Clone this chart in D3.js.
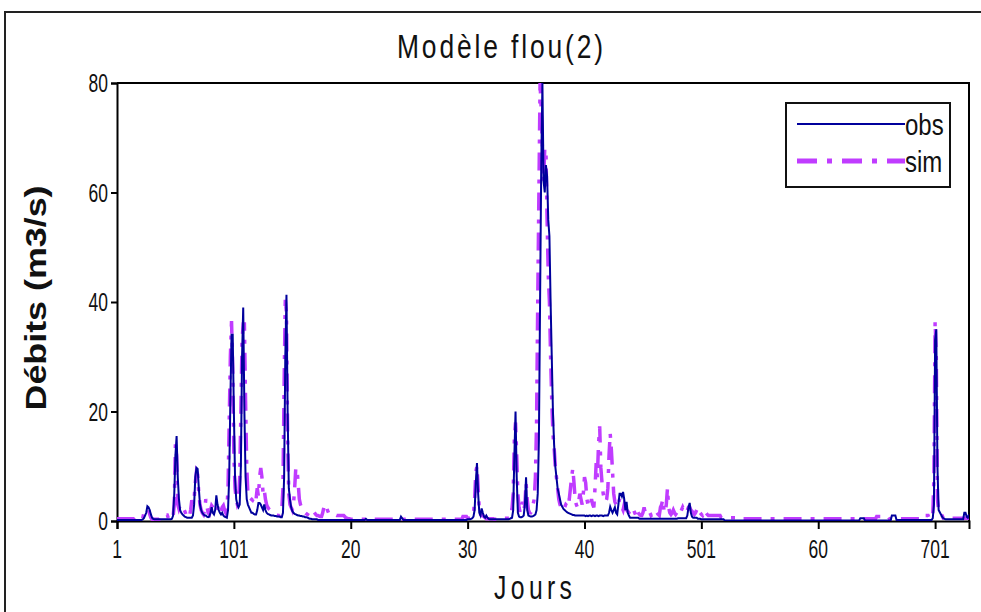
<!DOCTYPE html>
<html>
<head>
<meta charset="utf-8">
<script src="https://cdn.jsdelivr.net/npm/d3@7"></script>
<style>
  body { margin: 0; background: #fff; }
  svg { display: block; font-family: "Liberation Sans", Arial, sans-serif; }
</style>
</head>
<body>
<svg id="chart" width="981" height="612"></svg>
<script>
// Daily discharge (m3/s), days 1..730 — observed series
const obs = [
  0.2,0.2,0.2,0.2,0.2,0.2,0.2,0.2,0.2,0.2,
  0.2,0.2,0.2,0.2,0.2,0.2,0.2,0.2,0.2,0.2,
  0.2,0.2,0.3,0.5,1.0,1.5,2.7,2.5,2.0,1.2,
  0.6,0.4,0.3,0.3,0.3,0.3,0.3,0.3,0.3,0.3,
  0.3,0.3,0.3,0.3,0.3,0.3,0.3,0.4,1.0,5.0,
  12,15.5,8,4,2,1.5,1.2,1.0,0.8,0.7,
  0.6,0.6,0.6,0.6,0.6,1.0,3,8,9.7,9.5,
  6,3,2,1.5,1.2,1.0,1.0,0.8,0.7,0.8,
  1.5,2.5,1.5,1.2,2,4.7,3,2,1.5,1.2,
  1.5,1.0,0.8,0.7,0.6,2,8,22,34,34,
  20,8,4,3,2.5,3,10,30,39,20,
  8,4,3,2.5,2,1.5,1.5,1.3,1.2,1.2,
  2,3.3,3.3,3,2.5,2,3,2,1.5,1.3,
  1.2,1.1,1.0,1.0,1.0,0.9,0.9,0.8,0.8,0.8,
  0.7,0.7,1.5,8,30,41.3,20,6,4,2.5,
  1.8,1.5,1.3,1.2,1.1,1.0,1.0,0.9,0.9,0.8,
  0.8,0.7,0.7,0.6,0.5,0.4,0.4,0.3,0.3,0.3,
  0.3,0.3,0.2,0.2,0.2,0.2,0.2,0.2,0.2,0.2,
  0.2,0.2,0.2,0.2,0.2,0.2,0.2,0.2,0.2,0.2,
  0.2,0.2,0.2,0.2,0.2,0.2,0.2,0.2,0.2,0.2,
  0.2,0.2,0.2,0.2,0.2,0.2,0.2,0.2,0.2,0.2,
  0.2,0.2,0.2,0.4,0.2,0.2,0.2,0.2,0.2,0.2,
  0.2,0.2,0.2,0.2,0.2,0.2,0.2,0.2,0.2,0.2,
  0.2,0.2,0.2,0.2,0.2,0.2,0.2,0.2,0.2,0.2,
  0.2,0.2,0.2,0.8,0.5,0.2,0.2,0.2,0.2,0.2,
  0.2,0.2,0.2,0.2,0.2,0.2,0.2,0.2,0.2,0.2,
  0.2,0.2,0.2,0.2,0.2,0.2,0.2,0.2,0.2,0.2,
  0.2,0.2,0.2,0.2,0.2,0.2,0.2,0.2,0.2,0.2,
  0.2,0.2,0.2,0.2,0.2,0.2,0.2,0.2,0.2,0.2,
  0.2,0.2,0.2,0.2,0.2,0.2,0.2,0.2,0.2,0.2,
  0.3,0.3,0.3,0.4,0.5,0.8,2,7,10.6,5,
  1.5,1.0,2.3,1.5,0.8,0.6,1.0,0.6,0.4,0.3,
  0.3,0.3,0.3,0.3,0.3,0.3,0.3,0.3,0.3,0.3,
  0.3,0.3,0.3,0.3,0.3,0.3,0.4,0.5,0.6,2,
  12,20,8,1.5,0.8,0.7,0.7,0.8,1,3,
  8,2,1,0.9,0.8,0.8,0.9,1.0,1.2,2,
  5,15,40,65,80,62,60,65,63,55,
  52,40,30,20,14,10,8,6,5,4,
  3,2.6,2.2,2.0,1.8,1.6,1.5,1.4,1.3,1.2,
  1.1,1.1,1.0,1.0,1.0,1.0,1.0,1.0,1.0,1.0,
  1.0,0.9,1.0,0.9,1.0,1.0,0.9,1.0,1.0,0.9,
  1.0,1.0,0.9,1.0,1.0,1.0,0.9,1.0,1.0,1.0,
  1.0,1.5,2.6,2,1.5,2,2.5,1.5,1.2,3,
  5,5,4.5,5.3,4,2,3.5,1.5,1.0,0.6,
  0.6,0.6,0.6,0.6,0.6,0.6,0.6,0.4,0.4,0.4,
  0.4,0.4,0.4,0.4,0.4,0.4,0.4,0.4,0.4,0.4,
  0.4,0.4,0.4,0.4,0.4,0.4,0.4,0.4,0.4,0.4,
  0.4,0.4,0.4,0.4,0.4,0.4,0.4,0.4,0.4,0.4,
  0.5,0.5,0.5,0.5,0.5,0.5,0.5,0.5,1,2.5,
  3.3,1.5,0.8,0.6,0.6,0.6,0.6,0.4,0.4,0.4,
  0.3,0.3,0.3,0.3,0.3,0.3,0.3,0.3,0.3,0.3,
  0.3,0.3,0.3,0.3,0.3,0.3,0.3,0.3,0.3,0.3,
  0.1,0.1,0.1,0.1,0.1,0.1,0.1,0.1,0.1,0.1,
  0.1,0.1,0.1,0.1,0.1,0.1,0.1,0.1,0.1,0.1,
  0.1,0.1,0.1,0.1,0.1,0.1,0.1,0.1,0.1,0.1,
  0.1,0.1,0.1,0.1,0.1,0.1,0.1,0.1,0.1,0.1,
  0.1,0.1,0.1,0.1,0.1,0.1,0.1,0.1,0.1,0.1,
  0.1,0.1,0.1,0.1,0.1,0.1,0.1,0.1,0.1,0.1,
  0.1,0.1,0.1,0.1,0.1,0.1,0.1,0.1,0.1,0.1,
  0.1,0.1,0.1,0.1,0.1,0.1,0.1,0.1,0.1,0.1,
  0.1,0.1,0.1,0.1,0.1,0.1,0.1,0.1,0.1,0.1,
  0.1,0.1,0.1,0.1,0.1,0.1,0.1,0.1,0.1,0.1,
  0.1,0.1,0.1,0.1,0.1,0.1,0.1,0.1,0.1,0.1,
  0.1,0.1,0.1,0.1,0.1,0.1,0.5,0.5,0.5,0.5,
  0.1,0.1,0.1,0.1,0.1,0.1,0.1,0.1,0.1,0.1,
  0.1,0.1,0.1,0.1,0.1,0.1,0.1,0.1,0.1,0.1,
  0.1,0.1,0.1,1.0,1.0,1.0,1.0,0.2,0.2,0.2,
  0.2,0.2,0.2,0.2,0.2,0.2,0.2,0.2,0.2,0.2,
  0.2,0.2,0.2,0.2,0.2,0.2,0.2,0.2,0.2,0.2,
  0.2,0.2,0.2,0.2,0.2,0.2,0.2,0.2,0.5,3,
  33,35,10,2,1.6,1.2,0.8,0.5,0.4,0.3,
  0.3,0.3,0.3,0.3,0.3,0.3,0.3,0.3,0.3,0.3,
  0.3,0.3,0.3,0.3,0.3,1.5,1.5,0.8,0.6,1.2
];

// Simulated series (fuzzy model 2), days 1..730
const sim = [
  0.4,0.4,0.4,0.4,0.4,0.4,0.4,0.4,0.4,0.4,
  0.4,0.4,0.4,0.4,0.4,0.2,0.2,0.2,0.2,0.2,
  0.2,0.2,0.5,1.5,2,2,2.2,2,1.2,0.6,
  0.3,0.3,0.3,0.3,0.3,0.3,0.3,0.8,1.1,1.1,
  1.1,1.1,1.1,1.1,0.5,0.3,0.3,0.3,0.8,3,
  14,12,3,2.2,2.8,3,2.5,2.2,1.8,1.2,
  0.8,0.6,0.8,2,3.8,3,4,7,9,8.5,
  5,3,2,1.5,1.2,2,4,2.6,1.5,1.2,
  2,2.8,2.5,2.2,1.8,1.5,2.2,3,2,1.8,
  2.5,2.8,2,1.5,2,6,18,30,36.5,28,
  12,6,4,3,3.5,8,20,33,36,36,
  22,10,5,4.2,4.2,4,3.8,4.2,3.5,4,
  6,4.5,8,9.7,8,5,5.7,4,3,2.5,
  2.2,2,1.8,1.5,1.4,1.3,1.2,1.1,1.0,1.0,
  1.2,2,6,25,40.4,38,15,5,3,2.5,
  2,3,6,9.7,9.5,7,4,3,2.5,2,
  1.8,1.5,1.3,1.2,1.5,2,2,2,1.8,1.5,
  1.2,1.0,1.0,0.9,0.8,0.8,1.5,2.5,3,3,
  2,1.5,1.2,1.1,1.1,1.1,1.1,1.1,1.0,1.0,
  1.0,1.0,1.0,1.0,1.0,0.8,0.5,0.5,0.4,0.4,
  0.3,0.3,0.3,0.3,0.3,0.3,0.3,0.3,0.3,0.3,
  0.3,0.3,0.3,0.3,0.3,0.3,0.3,0.3,0.3,0.3,
  0.3,0.3,0.3,0.3,0.3,0.3,0.3,0.3,0.3,0.3,
  0.3,0.3,0.3,0.3,0.3,0.3,0.3,0.3,0.3,0.3,
  0.3,0.3,0.3,0.3,0.3,0.3,0.3,0.3,0.3,0.3,
  0.3,0.3,0.3,0.3,0.3,0.3,0.3,0.3,0.3,0.3,
  0.3,0.3,0.3,0.3,0.3,0.3,0.3,0.3,0.3,0.3,
  0.3,0.3,0.3,0.3,0.3,0.3,0.3,0.3,0.3,0.3,
  0.3,0.3,0.3,0.3,0.3,0.3,0.3,0.3,0.3,0.3,
  0.3,0.3,0.3,0.3,0.3,0.3,0.8,0.8,0.8,0.8,
  0.5,0.5,0.5,0.5,0.8,1.2,4,9,10,6,
  2,1.2,1.0,1.0,0.8,0.6,0.4,0.4,0.4,0.4,
  0.4,0.4,0.4,0.3,0.3,0.3,0.3,0.3,0.5,0.5,
  0.5,0.5,0.5,0.5,0.5,0.5,0.5,1,2.3,5,
  15,18,12,5,2.5,1.5,2.5,3.5,2,3,
  7,4,2,1.5,1.5,2,3,4,8,18,
  40,60,80,75,68,62,68,68,55,45,
  40,30,22,16,13.5,10,8,6,4,3,
  2.5,2,2,2.5,3,2.8,2.5,4,6,8,
  9.6,7,4,3,2.5,3.5,5,4,3,5,
  8,7,4,3,2.5,3,4,3,2.5,6,
  10.6,8,14,17.3,9.7,7,5,4,3.5,4,
  6,12,16,13,9,5,3.5,3,2.5,3,
  4,3,2.5,2,3,2.5,2,1.8,1.5,1.2,
  1.0,1.5,2,1.5,1.0,2,1.5,1.2,1,1,
  1.5,2.5,1.5,1.2,1.0,1.2,1.5,1.0,1.2,1.5,
  1.2,1.0,1.5,1.2,1.0,2.5,3,4,2,1.5,
  3,6,2.5,1.5,1.2,1.5,2,1.5,1.2,1.5,
  2,1.8,1.5,2,2.5,2,1.8,1.5,2,2.5,
  2.5,2,1.8,1.5,1.2,1.5,2,2.5,1.8,1.5,
  1.2,1.0,1.5,2,1.5,1.2,1.0,1.0,1.0,1.0,
  1.0,1.0,1.0,1.0,1.0,1.0,1.0,0.6,0.6,0.6,
  0.6,0.6,0.6,0.6,0.6,0.6,0.6,0.6,0.6,0.6,
  // days 531-650
  0.4,0.4,0.4,0.4,0.4,0.4,0.4,0.4,0.4,0.4,
  0.4,0.4,0.4,0.4,0.4,0.4,0.4,0.4,0.4,0.4,
  0.4,0.4,0.4,0.4,0.4,0.4,0.4,0.4,0.4,0.4,
  0.4,0.4,0.4,0.4,0.4,0.4,0.4,0.4,0.4,0.4,
  0.4,0.4,0.4,0.4,0.4,0.4,0.4,0.4,0.4,0.4,
  0.4,0.4,0.4,0.4,0.4,0.4,0.4,0.4,0.4,0.4,
  0.4,0.4,0.4,0.4,0.4,0.4,0.4,0.4,0.4,0.4,
  0.4,0.4,0.4,0.4,0.4,0.4,0.4,0.4,0.4,0.4,
  0.4,0.4,0.4,0.4,0.4,0.4,0.4,0.4,0.4,0.4,
  0.4,0.4,0.4,0.4,0.4,0.4,0.4,0.4,0.4,0.4,
  0.4,0.4,0.4,0.4,0.4,0.4,0.4,0.4,0.4,0.4,
  0.4,0.4,0.4,0.4,0.4,0.4,0.4,0.4,0.4,0.4,
  // days 651-730
  0.8,0.8,0.8,0.8,0.8,0.8,0.8,0.8,0.8,0.8,
  0.8,0.4,0.4,0.4,0.4,0.4,0.4,0.4,0.4,0.4,
  0.4,0.4,0.4,0.4,0.4,0.4,0.4,0.4,0.4,0.4,
  0.4,0.4,0.4,0.4,0.4,0.4,0.4,0.4,0.4,0.4,
  1,1,1,1,1,0.5,0.5,0.5,1,8,
  36.5,30,4,2,1.5,1.2,1.0,0.5,0.5,0.5,
  0.5,0.5,0.5,0.5,0.5,0.5,0.5,0.5,0.5,0.5,
  0.5,0.5,0.5,0.5,0.5,0.5,0.5,0.5,0.5,0.5
];

const yTicks = [0, 20, 40, 60, 80];
const xTickDays = [1, 101, 201, 301, 401, 501, 601, 701];
const xTickLabels = ["1", "101", "20", "30", "40", "501", "60", "701"];
const seriesNames = ["obs", "sim"];
const titleText = "Modèle flou(2)";
const yTitle = "Débits (m3/s)";
const xTitle = "Jours";

const svg = d3.select("#chart");
const plot = { left: 117, right: 969, top: 83, bottom: 521 };
const colors = { obs: "#00009c", sim: "#c03cff" };

const x = d3.scaleLinear().domain([1, obs.length]).range([plot.left, plot.right]);
const y = d3.scaleLinear().domain([0, 80]).range([plot.bottom, plot.top]);

// Condensed text: glyphs squeezed horizontally, optionally spread to a target width
function narrowText(parent, px, py, str, o) {
  const sx = o.sx || 0.72;
  const g = parent.append("g").attr("transform", `translate(${px},${py})`);
  const t = g.append("text")
    .attr("transform", `scale(${sx},1)`)
    .attr("text-anchor", o.anchor || "middle")
    .attr("font-size", o.size)
    .attr("font-weight", o.weight || "normal")
    .attr("fill", o.fill || "#111")
    .text(str);
  if (o.dy) t.attr("dy", o.dy);
  if (o.width) t.attr("textLength", o.width / sx).attr("lengthAdjust", "spacing");
  return t;
}

// Outer chart frame
svg.append("rect")
  .attr("x", 5).attr("y", 12).attr("width", 1000).attr("height", 700)
  .attr("fill", "none").attr("stroke", "#222").attr("stroke-width", 2);

// Title
narrowText(svg, 500, 58, titleText, { size: 33, sx: 0.8, width: 206 });

// Plot border (top / right)
svg.append("path")
  .attr("d", `M${plot.left},${plot.top}H${plot.right}V${plot.bottom}`)
  .attr("fill", "none").attr("stroke", "#000").attr("stroke-width", 2);

// Axes via d3
const yAxis = d3.axisLeft(y).tickValues(yTicks).tickSize(6).tickFormat("");
const xAxis = d3.axisBottom(x).tickValues(xTickDays).tickSize(8).tickFormat("");

const gy = svg.append("g").attr("transform", `translate(${plot.left},0)`).call(yAxis);
const gx = svg.append("g").attr("transform", `translate(0,${plot.bottom})`).call(xAxis);
[gy, gx].forEach(g => {
  g.select(".domain").attr("stroke", "#000").attr("stroke-width", 2);
  g.selectAll(".tick line").attr("stroke", "#000").attr("stroke-width", 2);
});

// Tick labels
yTicks.forEach(v => {
  narrowText(svg, 108, y(v), String(v), { size: 25, sx: 0.7, anchor: "end", dy: "0.36em" });
});
xTickDays.forEach((d, i) => {
  narrowText(svg, x(d), 558, xTickLabels[i], { size: 25, sx: 0.7 });
});

// Axis titles
svg.append("text")
  .attr("transform", `translate(46,298) rotate(-90)`)
  .attr("text-anchor", "middle")
  .attr("font-size", 29).attr("font-weight", "bold").attr("fill", "#111")
  .attr("textLength", 225).attr("lengthAdjust", "spacingAndGlyphs")
  .text(yTitle);
narrowText(svg, 533, 599, xTitle, { size: 33, sx: 0.75, width: 78 });

// Series lines
svg.append("clipPath").attr("id", "plotClip")
  .append("rect")
  .attr("x", plot.left).attr("y", plot.top - 3)
  .attr("width", plot.right - plot.left).attr("height", plot.bottom - plot.top + 3);

const line = d3.line().x((d, i) => x(i + 1)).y(d => y(d));
const lines = svg.append("g").attr("clip-path", "url(#plotClip)");

lines.append("path").datum(sim)
  .attr("d", line).attr("fill", "none")
  .attr("stroke", colors.sim).attr("stroke-width", 3.5)
  .attr("stroke-dasharray", "18,9,4,9");
lines.append("path").datum(obs)
  .attr("d", line).attr("fill", "none")
  .attr("stroke", colors.obs).attr("stroke-width", 2);

// Legend
const lg = svg.append("g");
lg.append("rect")
  .attr("x", 786).attr("y", 103).attr("width", 164).attr("height", 84)
  .attr("fill", "#fff").attr("stroke", "#111").attr("stroke-width", 2);
const legendRows = [
  { name: seriesNames[0], yy: 124, color: colors.obs, w: 2, dash: null },
  { name: seriesNames[1], yy: 161, color: colors.sim, w: 5, dash: "20,10,5,10" }
];
legendRows.forEach(r => {
  const l = lg.append("line")
    .attr("x1", 797).attr("x2", 905).attr("y1", r.yy).attr("y2", r.yy)
    .attr("stroke", r.color).attr("stroke-width", r.w);
  if (r.dash) l.attr("stroke-dasharray", r.dash);
  narrowText(lg, 905, r.yy, r.name, { size: 30, sx: 0.8, anchor: "start", dy: "0.36em" });
});
</script>
</body>
</html>
